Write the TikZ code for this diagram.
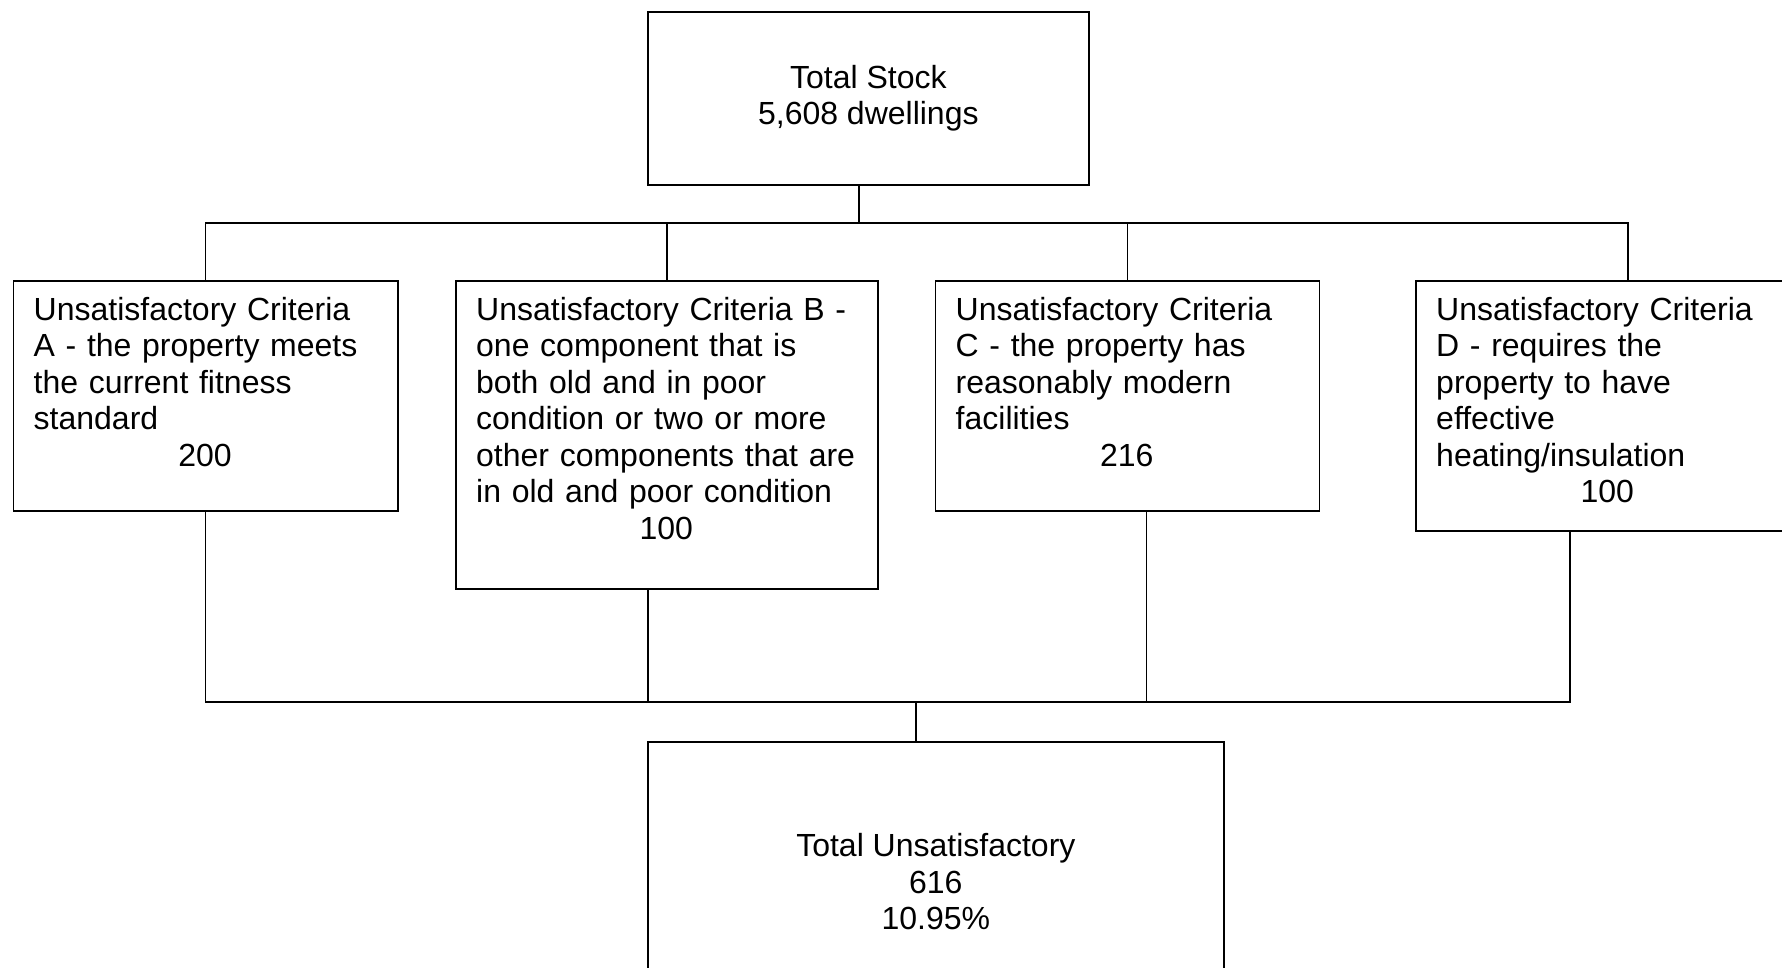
\documentclass[tikz,border=0pt]{standalone}
\usepackage{fontspec}
\setmainfont{Liberation Sans}
\begin{document}
\begin{tikzpicture}[x=1pt,y=-1pt,
  box/.style={draw=black,line width=1.7pt,rectangle,inner sep=0pt,anchor=north west},
  wire/.style={draw=black,line width=1.5pt},
  boxtext/.style={inner sep=0pt,align=left,anchor=north west,
    font=\fontsize{32}{36.5}\selectfont},
  centretext/.style={align=center,font=\fontsize{32}{36.5}\selectfont}]
\useasboundingbox (0,0) rectangle (1782,967);
\fill[white] (0,0) rectangle (1782,967);
\clip (0,0) rectangle (1782,967);

% top node
\node[box,minimum width=441pt,minimum height=173pt,centretext] (top) at (647,11)
  {Total Stock\\5,608 dwellings};

% the four criteria boxes
\node[box,minimum width=384.5pt,minimum height=230pt] (A) at (12.5,280) {};
\node[box,minimum width=422pt,minimum height=308pt] (B) at (455,280) {};
\node[box,minimum width=384pt,minimum height=230pt] (C) at (934.5,280) {};
\node[box,minimum width=384pt,minimum height=250pt] (D) at (1415,280) {};

\node[boxtext,text width=342.5pt] (At) at ([xshift=21pt,yshift=-16pt]A.north west)
  {\rule{0pt}{24pt}Unsatisfactory Criteria\\A - the property meets\\the current fitness\\standard\par\centering 200\par};
\node[boxtext,text width=380pt] (Bt) at ([xshift=21pt,yshift=-16pt]B.north west)
  {\rule{0pt}{24pt}Unsatisfactory Criteria B -\\one component that is\\both old and in poor\\condition or two or more\\other components that are\\in old and poor condition\par\centering 100\par};
\node[boxtext,text width=342pt] (Ct) at ([xshift=21pt,yshift=-16pt]C.north west)
  {\rule{0pt}{24pt}Unsatisfactory Criteria\\C - the property has\\reasonably modern\\facilities\par\centering 216\par};
\node[boxtext,text width=342pt] (Dt) at ([xshift=21pt,yshift=-16pt]D.north west)
  {\rule{0pt}{24pt}Unsatisfactory Criteria\\D - requires the\\property to have\\effective\\heating/insulation\par\centering 100\par};

% bottom node
\node[box,minimum width=576pt,minimum height=280pt,centretext] (bot) at (647,741)
  {Total Unsatisfactory\\616\\10.95\%};

% upper bus
\coordinate (j1) at ([xshift=-9.5pt]top.south |- 0,223);
\draw[wire] ([xshift=-9.5pt]top.south) -- (j1);
\draw[wire] (A.north) |- (j1) -| ([xshift=20pt]D.north);
\draw[wire] (B.north) -- (B.north |- j1);
\draw[wire] (C.north) -- (C.north |- j1);

% lower bus
\coordinate (j2) at ([xshift=-20pt]bot.north |- 0,702);
\draw[wire] (A.south) |- (j2) -| ([xshift=-38pt]D.south);
\draw[wire] ([xshift=-19pt]B.south) -- ([xshift=-19pt]B.south |- j2);
\draw[wire] ([xshift=19pt]C.south) -- ([xshift=19pt]C.south |- j2);
\draw[wire] (j2) -- ([xshift=-20pt]bot.north);
\end{tikzpicture}
\end{document}
